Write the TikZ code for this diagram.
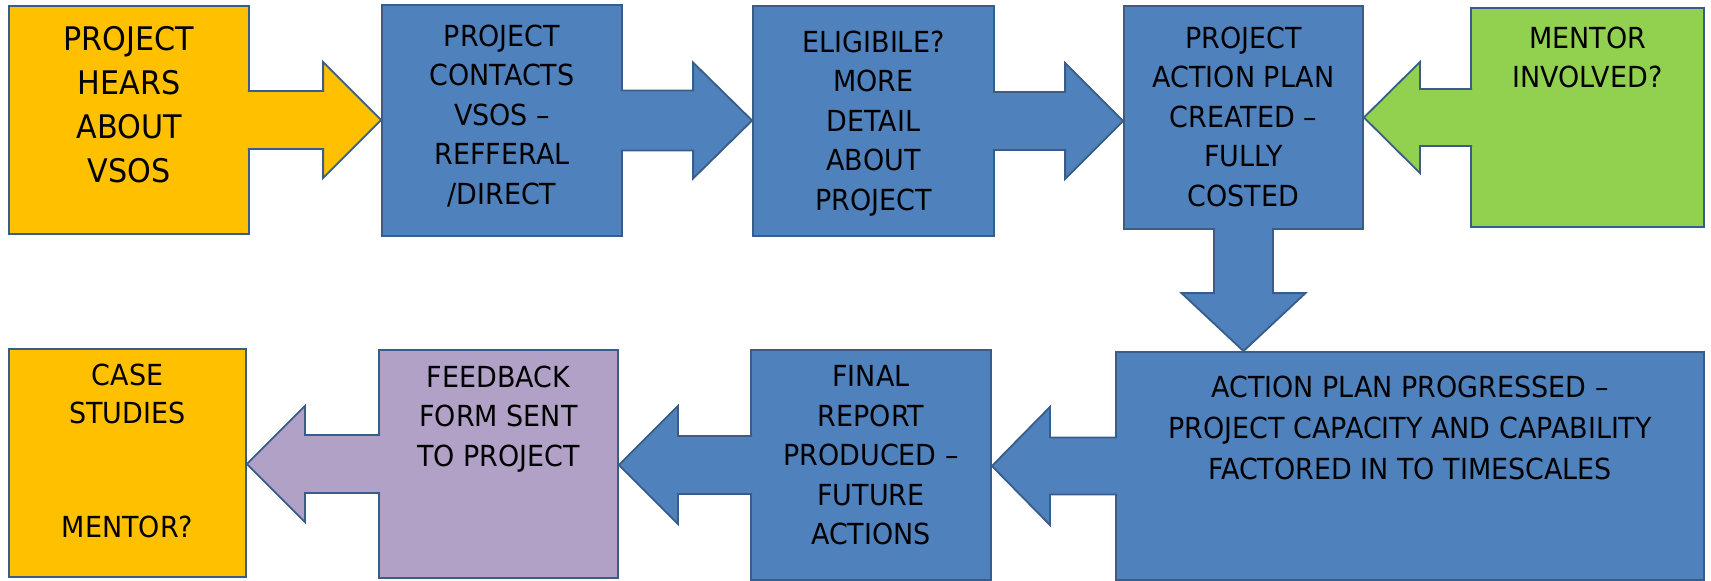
\documentclass[tikz,border=0pt]{standalone}
\usepackage{fontspec}
\newfontfamily\boxfont{DejaVu Sans}[FakeStretch=0.93,Ligatures=TeX]
\usepackage{tikz}
\usetikzlibrary{positioning}

\definecolor{vsoyellow}{HTML}{FFC000}
\definecolor{vsoblue}{HTML}{4F81BD}
\definecolor{vsogreen}{HTML}{92D050}
\definecolor{vsopurple}{HTML}{B2A1C7}
\definecolor{vsoedge}{HTML}{385D8A}

\begin{document}
\begin{tikzpicture}[x=1pt,y=-1pt,
    box/.style={draw=vsoedge, line width=1.8pt, inner sep=0pt, rectangle},
    boxtext/.style={inner sep=0pt, align=center, text=black, font=\boxfont\fontsize{29}{39.5}\selectfont},
    flowarrow/.style={draw=vsoedge, line width=1.8pt, line join=miter}]
    \useasboundingbox (0,0) rectangle (1711,581);

    %Shape: Rectangle [top row]
    \node[box, fill=vsoyellow, minimum width=240pt, minimum height=228pt] (hears) at (129,120) {};
    \node[box, fill=vsoblue, minimum width=240pt, minimum height=231pt] (contacts) at (502,120.5) {};
    \node[box, fill=vsoblue, minimum width=241pt, minimum height=230pt] (eligible) at (873.5,121) {};
    \node[box, fill=vsoblue, minimum width=239pt, minimum height=223pt] (plan) at (1243.5,117.5) {};
    \node[box, fill=vsogreen, minimum width=233pt, minimum height=219pt] (mentor) at (1587.5,117.5) {};
    %Shape: Rectangle [bottom row]
    \node[box, fill=vsoyellow, minimum width=237pt, minimum height=228pt] (casestudy) at (127.5,463) {};
    \node[box, fill=vsopurple, minimum width=239pt, minimum height=228pt] (feedback) at (498.5,464) {};
    \node[box, fill=vsoblue, minimum width=240pt, minimum height=230pt] (final) at (871,465) {};
    \node[box, fill=vsoblue, minimum width=588pt, minimum height=228pt] (progress) at (1410,466) {};

    % Text Node
    \node[boxtext, font=\boxfont\fontsize{32.5}{43.7}\selectfont, below=21.5pt of hears.north] (hears-t) {PROJECT\\HEARS\\ABOUT\\VSOS};
    % Text Node
    \node[boxtext, below=20.5pt of contacts.north] (contacts-t) {PROJECT\\CONTACTS\\VSOS \textendash\\REFFERAL\\/DIRECT};
    % Text Node
    \node[boxtext, below=25.5pt of eligible.north] (eligible-t) {ELIGIBILE?\\MORE\\DETAIL\\ABOUT\\PROJECT};
    % Text Node
    \node[boxtext, below=21.5pt of plan.north] (plan-t) {PROJECT\\ACTION PLAN\\CREATED \textendash\\FULLY\\COSTED};
    % Text Node
    \node[boxtext, below=19.5pt of mentor.north] (mentor-t) {MENTOR\\INVOLVED?};
    % Text Node
    \node[boxtext, font=\boxfont\fontsize{29}{38}\selectfont, below=15.5pt of casestudy.north] (casestudy-t) {CASE\\STUDIES\\\mbox{}\\\mbox{}\\MENTOR?};
    % Text Node
    \node[boxtext, below=16.5pt of feedback.north] (feedback-t) {FEEDBACK\\FORM SENT\\TO PROJECT};
    % Text Node
    \node[boxtext, below=16.5pt of final.north] (final-t) {FINAL\\REPORT\\PRODUCED \textendash\\FUTURE\\ACTIONS};
    % Text Node
    \node[boxtext, font=\boxfont\fontsize{29}{41}\selectfont, below=24.5pt of progress.north] (progress-t) {ACTION PLAN PROGRESSED \textendash\\PROJECT CAPACITY AND CAPABILITY\\FACTORED IN TO TIMESCALES};

    %Shape: Right Arrow [hears -> contacts]
    \coordinate (tip-hc) at (hears.east -| contacts.west);
    \draw[flowarrow, fill=vsoyellow] ([shift={(-2,-29)}]hears.east) -- ([shift={(-58,-29)}]tip-hc) -- ([shift={(-58,-58)}]tip-hc) -- (tip-hc) -- ([shift={(-58,58)}]tip-hc) -- ([shift={(-58,29)}]tip-hc) -- ([shift={(-2,29)}]hears.east);
    %Shape: Right Arrow [contacts -> eligible]
    \coordinate (tip-ce) at (contacts.east -| eligible.west);
    \draw[flowarrow, fill=vsoblue] ([shift={(-2,-30)}]contacts.east) -- ([shift={(-59,-30)}]tip-ce) -- ([shift={(-59,-58)}]tip-ce) -- (tip-ce) -- ([shift={(-59,58)}]tip-ce) -- ([shift={(-59,30)}]tip-ce) -- ([shift={(-2,30)}]contacts.east);
    %Shape: Right Arrow [eligible -> plan]
    \coordinate (tip-ep) at (eligible.east -| plan.west);
    \draw[flowarrow, fill=vsoblue] ([shift={(-2,-29)}]eligible.east) -- ([shift={(-58,-29)}]tip-ep) -- ([shift={(-58,-58)}]tip-ep) -- (tip-ep) -- ([shift={(-58,58)}]tip-ep) -- ([shift={(-58,29)}]tip-ep) -- ([shift={(-2,29)}]eligible.east);
    %Shape: Left Arrow [mentor -> plan]
    \coordinate (tip-mp) at (mentor.west -| plan.east);
    \draw[flowarrow, fill=vsogreen] ([shift={(2,-28.5)}]mentor.west) -- ([shift={(56,-28.5)}]tip-mp) -- ([shift={(56,-55.5)}]tip-mp) -- (tip-mp) -- ([shift={(56,55.5)}]tip-mp) -- ([shift={(56,28.5)}]tip-mp) -- ([shift={(2,28.5)}]mentor.west);
    %Shape: Down Arrow [plan -> progress]
    \coordinate (tip-pp) at (plan.south |- progress.north);
    \draw[flowarrow, fill=vsoblue] ([shift={(-29.5,-2)}]plan.south) -- ([shift={(-29.5,-58)}]tip-pp) -- ([shift={(-62,-58)}]tip-pp) -- (tip-pp) -- ([shift={(62,-58)}]tip-pp) -- ([shift={(29.5,-58)}]tip-pp) -- ([shift={(29.5,-2)}]plan.south);
    %Shape: Left Arrow [progress -> final]
    \coordinate (tip-pf) at (progress.west -| final.east);
    \draw[flowarrow, fill=vsoblue] ([shift={(2,-28.5)}]progress.west) -- ([shift={(58,-28.5)}]tip-pf) -- ([shift={(58,-59)}]tip-pf) -- (tip-pf) -- ([shift={(58,59)}]tip-pf) -- ([shift={(58,28.5)}]tip-pf) -- ([shift={(2,28.5)}]progress.west);
    %Shape: Left Arrow [final -> feedback]
    \coordinate (tip-ff) at (final.west -| feedback.east);
    \draw[flowarrow, fill=vsoblue] ([shift={(2,-29)}]final.west) -- ([shift={(59,-29)}]tip-ff) -- ([shift={(59,-59)}]tip-ff) -- (tip-ff) -- ([shift={(59,59)}]tip-ff) -- ([shift={(59,29)}]tip-ff) -- ([shift={(2,29)}]final.west);
    %Shape: Left Arrow [feedback -> casestudy]
    \coordinate (tip-fc) at (feedback.west -| casestudy.east);
    \draw[flowarrow, fill=vsopurple] ([shift={(2,-29)}]feedback.west) -- ([shift={(58,-29)}]tip-fc) -- ([shift={(58,-58)}]tip-fc) -- (tip-fc) -- ([shift={(58,58)}]tip-fc) -- ([shift={(58,29)}]tip-fc) -- ([shift={(2,29)}]feedback.west);
\end{tikzpicture}
\end{document}
